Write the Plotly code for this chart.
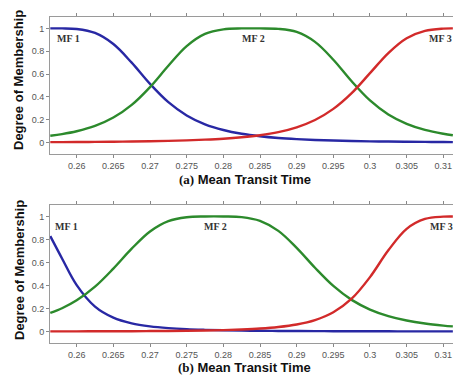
import plotly.graph_objects as go

# ---------------- data ----------------
x_grid = [0.2564, 0.258, 0.260, 0.2625, 0.265, 0.2675, 0.270, 0.2725, 0.275, 0.2775,
          0.280, 0.2825, 0.285, 0.2875, 0.290, 0.2925, 0.295, 0.2975, 0.300, 0.3025,
          0.305, 0.3075, 0.310, 0.3113]

# panel (a)
a_mf1 = [1.0, 1.0, 0.995, 0.96, 0.863, 0.70, 0.514, 0.354, 0.238, 0.160,
         0.110, 0.077, 0.055, 0.040, 0.030, 0.023, 0.018, 0.014, 0.011, 0.009,
         0.0073, 0.006, 0.005, 0.004]
a_mf2 = [0.060, 0.0745, 0.0996, 0.146, 0.219, 0.330, 0.486, 0.673, 0.845, 0.952,
         0.992, 1.0, 1.0, 0.996, 0.969, 0.882, 0.726, 0.537, 0.369, 0.246,
         0.164, 0.111, 0.077, 0.064]
a_mf3 = [0.004, 0.0043, 0.005, 0.006, 0.0075, 0.0094, 0.0118, 0.015, 0.0194, 0.0255,
         0.034, 0.0466, 0.0648, 0.092, 0.134, 0.198, 0.295, 0.433, 0.608, 0.784,
         0.914, 0.978, 0.998, 1.0]

# panel (b)
b_mf1 = [0.829, 0.635, 0.403, 0.216, 0.120, 0.0707, 0.0444, 0.0293, 0.020, 0.0145,
         0.0107, 0.008, 0.0063, 0.005, 0.0039, 0.0032, 0.0027, 0.0022, 0.0019, 0.0016,
         0.0014, 0.0012, 0.001, 0.001]
b_mf2 = [0.161, 0.202, 0.271, 0.390, 0.547, 0.720, 0.870, 0.960, 0.994, 1.0,
         1.0, 0.995, 0.962, 0.875, 0.727, 0.554, 0.396, 0.275, 0.191, 0.134,
         0.0955, 0.0695, 0.0516, 0.0445]
b_mf3 = [0.001, 0.0012, 0.0014, 0.0017, 0.0022, 0.0028, 0.0037, 0.0048, 0.0064, 0.0088,
         0.0122, 0.0175, 0.0256, 0.039, 0.061, 0.0995, 0.1675, 0.285, 0.473, 0.706,
         0.893, 0.979, 0.9987, 1.0]

x_ticks = [0.26, 0.265, 0.27, 0.275, 0.28, 0.285, 0.29, 0.295, 0.3, 0.305, 0.31]
x_tick_text = ["0.26", "0.265", "0.27", "0.275", "0.28", "0.285", "0.29", "0.295", "0.3", "0.305", "0.31"]
y_ticks = [0, 0.2, 0.4, 0.6, 0.8, 1]
y_tick_text = ["0", "0.2", "0.4", "0.6", "0.8", "1"]

mf_labels = ["MF 1", "MF 2", "MF 3"]
a_label_pos = [(0.25895, 0.91), (0.28418, 0.91), (0.30955, 0.915)]
b_label_pos = [(0.25864, 0.91), (0.27896, 0.915), (0.30969, 0.915)]
panel_titles = ["(a)", "(b)"]
x_title = "Mean Transit Time"
y_title = "Degree of Membership"

# ---------------- figure ----------------
colors = ["#2828a4", "#2c8a2c", "#d22a2a"]
fig = go.Figure()

for ys, ax in [((a_mf1, a_mf2, a_mf3), ("x", "y")), ((b_mf1, b_mf2, b_mf3), ("x2", "y2"))]:
    for yv, c in zip(ys, colors):
        fig.add_trace(go.Scatter(x=x_grid, y=yv, mode="lines", xaxis=ax[0], yaxis=ax[1],
                                 line=dict(color=c, width=2.4, shape="spline", smoothing=1.0),
                                 showlegend=False, hoverinfo="skip"))

W, H = 453, 379
xr = [0.25636, 0.31132]
yr = [-0.1, 1.1]
xdom = [50 / W, 1.0]
ydom_a = [1 - 154 / H, 1 - 17 / H]
ydom_b = [1 - 343 / H, 1 - 205 / H]

axis_common = dict(showgrid=False, zeroline=False, showline=True, linecolor="#9a9a9a",
                   linewidth=1, ticks="outside", ticklen=3, tickcolor="#888888",
                   tickfont=dict(family="Arial, Liberation Sans, sans-serif", size=9, color="#555555"))

xa = dict(axis_common, range=xr, domain=xdom, tickvals=x_ticks, ticktext=x_tick_text, mirror="ticks")
ya = dict(axis_common, range=yr, tickvals=y_ticks, ticktext=y_tick_text, mirror=False)

fig.update_layout(
    width=W, height=H, margin=dict(l=0, r=0, t=0, b=0),
    paper_bgcolor="white", plot_bgcolor="white",
    xaxis=dict(xa, anchor="y"),
    yaxis=dict(ya, domain=ydom_a, anchor="x"),
    xaxis2=dict(xa, anchor="y2"),
    yaxis2=dict(ya, domain=ydom_b, anchor="x2"),
)

annotations = []
for (pos, xref, yref) in [(a_label_pos, "x", "y"), (b_label_pos, "x2", "y2")]:
    for lab, (lx, ly) in zip(mf_labels, pos):
        annotations.append(dict(x=lx, y=ly, xref=xref, yref=yref, text="<b>" + lab + "</b>",
                                showarrow=False, xanchor="center", yanchor="middle",
                                font=dict(family="Liberation Serif, Times New Roman, serif", size=10, color="#333333")))

for title, yc, ycy in [(panel_titles[0], 179, 80), (panel_titles[1], 367, 270)]:
    annotations.append(dict(
        x=244.5 / W, y=1 - yc / H, xref="paper", yref="paper", showarrow=False,
        xanchor="center", yanchor="middle",
        text="<b><span style='font-family:Liberation Serif, Times New Roman, serif'>" + title + "</span> " + x_title + "</b>",
        font=dict(family="Arial, Liberation Sans, sans-serif", size=13, color="#111111")))
    annotations.append(dict(
        x=19 / W, y=1 - ycy / H, xref="paper", yref="paper", showarrow=False,
        xanchor="center", yanchor="middle", textangle=-90,
        text="<b>" + y_title + "</b>",
        font=dict(family="Arial, Liberation Sans, sans-serif", size=13, color="#111111")))

fig.update_layout(annotations=annotations)
fig.write_html("out.html", config={"displayModeBar": False},
               post_script="document.body.style.margin='0';document.body.style.overflow='hidden';")
